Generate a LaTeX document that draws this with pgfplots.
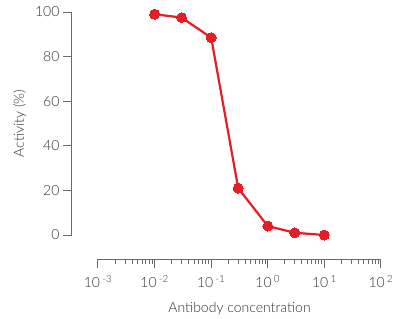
\documentclass[border=0pt]{standalone}
\usepackage{pgfplots}
\pgfplotsset{compat=1.18}
\usepackage{fontspec}
\setmainfont{Lato}[UprightFont={* Light}]
\definecolor{lred}{HTML}{E31E26}
\definecolor{axg}{HTML}{6A6A6A}
\definecolor{txg}{HTML}{333333}
\begin{document}
\begin{tikzpicture}
\path[use as bounding box] (-98pt,-84pt) rectangle (302pt,235pt);
\begin{axis}[
  at={(0,0)}, anchor=south west,
  scale only axis, width=283pt, height=223pt,
  xmode=log, xmin=1e-3, xmax=1e2, ymin=0, ymax=100,
  axis lines=left, axis line style={-, axg, line width=1pt},
  axis x line shift=24pt, axis y line shift=26pt,
  tick align=outside, tick style={axg, line width=1pt},
  major tick length=9pt, minor tick length=5pt,
  xtick={1e-3,1e-2,1e-1,1,1e1,1e2},
  xticklabels={10\,\textsuperscript{-3},10\,\textsuperscript{-2},10\,\textsuperscript{-1},10\,\textsuperscript{0},10\,\textsuperscript{1},10\,\textsuperscript{2}},
  minor xtick={2e-3,3e-3,4e-3,5e-3,6e-3,7e-3,8e-3,9e-3,
               2e-2,3e-2,4e-2,5e-2,6e-2,7e-2,8e-2,9e-2,
               2e-1,3e-1,4e-1,5e-1,6e-1,7e-1,8e-1,9e-1,
               2,3,4,5,6,7,8,9,20,30,40,50,60,70,80,90},
  ytick={0,20,40,60,80,100},
  /pgf/number format/assume math mode=true,
  ticklabel style={font=\fontsize{14}{16}\selectfont, text=txg},
  xticklabel style={yshift=-4pt},
  xlabel={Antibody concentration}, ylabel={Activity (\%)},
  label style={font=\fontsize{14}{16}\selectfont, text=txg},
  xlabel style={yshift=-8pt},
  ylabel style={yshift=2pt},
  clip=false,
]
\addplot[lred, line width=2.2pt, mark=*, mark size=5pt, mark options={fill=lred, draw=lred, line width=0pt}]
coordinates {(0.01,99) (0.03,97.5) (0.1,88.5) (0.3,21) (1,4) (3,1) (10,0)};
\end{axis}
\end{tikzpicture}
\end{document}
